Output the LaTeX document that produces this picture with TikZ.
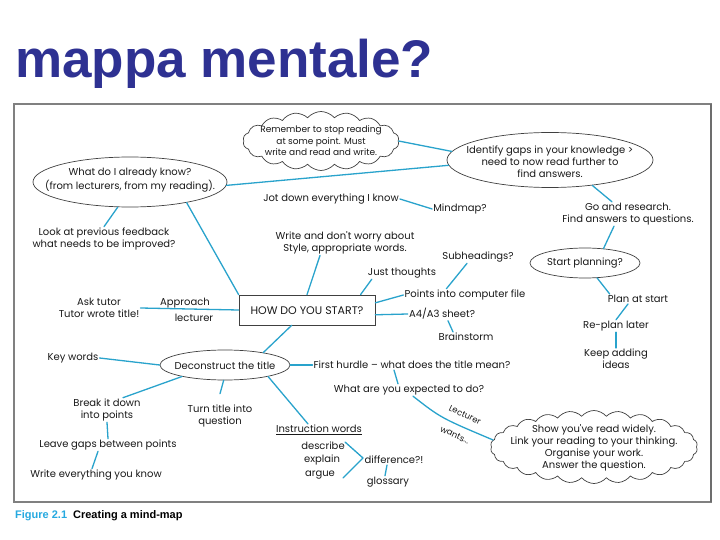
\documentclass[tikz,border=0pt]{standalone}
\usepackage{fontspec}
\setmainfont{Liberation Sans}
\newfontfamily\hw{Poppins}
\usetikzlibrary{shapes.geometric,shapes.symbols,calc}
\definecolor{titleblue}{RGB}{46,49,146}
\definecolor{linec}{RGB}{41,163,204}
\definecolor{capblue}{RGB}{38,169,224}
\definecolor{framec}{RGB}{128,128,128}
\definecolor{inkc}{RGB}{25,25,25}
\begin{document}
\begin{tikzpicture}[x=1pt,y=-1pt,
  hw/.style={font=\hw\fontsize{10}{12}\selectfont, text=inkc, inner sep=1pt, align=center},
  link/.style={draw=linec, line width=1.3pt, line cap=round},
  ell/.style={ellipse, draw=black!75, line width=0.7pt, inner sep=0pt},
  cloudbox/.style={cloud, draw=black!75, line width=0.7pt, cloud ignores aspect, inner sep=0pt, cloud puff arc=100},
  boxc/.style={rectangle, draw=black!75, line width=0.7pt, inner sep=0pt, minimum width=136pt, minimum height=30pt}
]
\useasboundingbox (0,0) rectangle (720,540);
\fill[white] (0,0) rectangle (720,540);

% title
\node[anchor=base west, inner sep=0pt, font=\fontsize{53}{60}\selectfont\bfseries, text=titleblue] (title) at (15,78) {mappa mentale?};

% frame
\draw[framec, line width=1.2pt] (14,104) rectangle (711,502);
\draw[framec!85!black, line width=2.5pt] (711,104) -- (711,502);

% shapes
\node[cloudbox, cloud puffs=18, minimum width=156pt, minimum height=59pt] (rem) at (321,141) {};
\node[hw, font=\hw\fontsize{9}{11.5}\selectfont] (remt) at (321,141) {Remember to stop reading\\at some point. Must\\write and read and write.};
\node[ell, minimum width=194pt, minimum height=50pt] (know) at (130,182) {};
\node[hw] (knowt) at (130,180) {What do I already know?\\[2pt](from lecturers, from my reading).};
\node[ell, minimum width=206pt, minimum height=55pt] (gaps) at (550,160) {};
\node[hw] (gapst) at (550,162) {Identify gaps in your knowledge >\\need to now read further to\\find answers.};
\node[ell, minimum width=110pt, minimum height=30pt] (plan) at (585,263) {};
\node[hw] (plant) at (585,263) {Start planning?};
\node[boxc] (how) at (307,310) {};
\node[hw, font=\hw\fontsize{11}{12}\selectfont] (howt) at (307,311) {HOW DO YOU START?};
\node[ell, minimum width=130pt, minimum height=30pt] (dec) at (225,365) {};
\node[hw] (dect) at (225,366) {Deconstruct the title};
\node[cloudbox, cloud puffs=26, minimum width=207pt, minimum height=73pt] (show) at (594,447) {};
\node[hw] (showt) at (594,448) {Show you've read widely.\\Link your reading to your thinking.\\Organise your work.\\Answer the question.};

% texts
\node[hw] (jot) at (331,199) {Jot down everything I know};
\node[hw] (mind) at (460,209) {Mindmap?};
\node[hw] (go) at (628,214) {Go and research.\\Find answers to questions.};
\node[hw] (look) at (104,239) {Look at previous feedback\\what needs to be improved?};
\node[hw] (write) at (345,243) {Write and don't worry about\\Style, appropriate words.};
\node[hw] (sub) at (478,257) {Subheadings?};
\node[hw] (just) at (402,273) {Just thoughts};
\node[hw] (pcf) at (465,295) {Points into computer file};
\node[hw] (pas) at (638,299) {Plan at start};
\node[hw] (ask) at (99,308) {Ask tutor\\Tutor wrote title!};
\node[hw] (appr) at (185,303) {Approach};
\node[hw] (lect) at (194,318) {lecturer};
\node[hw] (a4) at (442,314) {A4/A3 sheet?};
\node[hw] (rpl) at (616,326) {Re-plan later};
\node[hw] (brain) at (466,337) {Brainstorm};
\node[hw] (kad) at (616,359) {Keep adding\\ideas};
\node[hw] (kw) at (73,358) {Key words};
\node[hw] (fh) at (412,365) {First hurdle – what does the title mean?};
\node[hw] (exp) at (409,390) {What are you expected to do?};
\node[hw] (brk) at (107,410) {Break it down\\into points};
\node[hw] (turn) at (220,416) {Turn title into\\question};
\node[hw, font=\hw\fontsize{8.5}{10}\selectfont, rotate=-25] (lec) at (465,415) {Lecturer};
\node[hw, font=\hw\fontsize{8.5}{10}\selectfont, rotate=-25] (wants) at (455,435) {wants...};
\node[hw] (instr) at (319,430) {\underline{Instruction words}};
\node[hw] (desc) at (323,446) {describe};
\node[hw] (expl) at (322,460) {explain};
\node[hw] (arg) at (320,475) {argue};
\node[hw] (diff) at (394,460) {difference?!};
\node[hw] (gloss) at (388,482) {glossary};
\node[hw] (leave) at (108,445) {Leave gaps between points};
\node[hw] (wrt) at (96,475) {Write everything you know};

% caption
\node[anchor=base west, inner sep=0pt, font=\fontsize{11}{13}\selectfont\bfseries] (cap) at (15,518) {\textcolor{capblue}{Figure 2.1}\hspace{6pt}Creating a mind-map};

% connectors
\draw[link] (rem.east) -- (gaps.175);
\draw[link] (know.-2) -- (gaps.-177);
\draw[link] (jot.east) -- (mind.west);
\draw[link] (know.-116) -- (look.north);
\draw[link] (know.-20) -- (how.north west);
\draw[link] (gaps.-31) -- ($(go.north)+(-16,0)$);
\draw[link] ($(go.south)+(-14,0)$) -- (plan.38);
\draw[link] (plan.-51) -- ($(pas.north west)+(3,0)$);
\draw[link] ($(pas.south)+(-10,0)$) -- (rpl.north);
\draw[link] (rpl.south) -- (kad.north);
\draw[link] ($(write.south)+(-25,0)$) -- (how.north);
\draw[link] (how.16.7) -- ($(just.south west)+(5,0)$);
\draw[link] (how.6.7) -- (pcf.west);
\draw[link] ($(pcf.north west)+(43,0)$) -- ($(sub.south)+(-11,0)$);
\draw[link] (how.-4.2) -- (a4.west);
\draw[link] ($(a4.south)+(6,0)$) -- ($(brain.north)+(-13,0)$);
\draw[link] (ask.east) -- (how.west);
\draw[link] (how.-135) -- (dec.18);
\draw[link] (kw.east) -- (dec.west);
\draw[link] (dec.east) -- (fh.west);
\draw[link] ($(fh.south)+(-18,0)$) -- ($(exp.north)+(-11,0)$);
\draw[link] ($(exp.south)+(4,0)$) .. controls (441,418) .. (show.176);
\draw[link] (dec.-165) -- ($(brk.north)+(16,0)$);
\draw[link] (dec.-95) -- ($(turn.north)+(0,-10)$);
\draw[link] (brk.south) -- (leave.north);
\draw[link] ($(leave.south)+(-10,0)$) -- ($(wrt.north)+(-4,0)$);
\draw[link] (dec.-15) -- ($(instr.north)+(-11,0)$);
\coordinate (bt) at (345,442);
\coordinate (bm) at (363,458);
\coordinate (bb) at (343,478);
\draw[link, line join=round] (bt) -- (bm) -- (bb);
\draw[link] ($(diff.south)+(-7,0)$) -- ($(gloss.north)+(-3,0)$);
\end{tikzpicture}
\end{document}
